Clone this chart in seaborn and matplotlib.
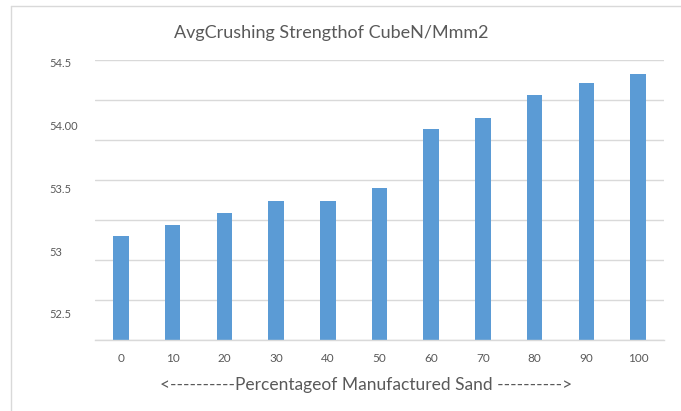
import numpy as np
import pandas as pd
import seaborn as sns
import matplotlib.pyplot as plt
from matplotlib.lines import Line2D

percent = ['0', '10', '20', '30', '40', '50', '60', '70', '80', '90', '100']
strength = [53.12, 53.21, 53.30, 53.40, 53.40, 53.50, 53.97, 54.06, 54.24, 54.34, 54.41]
ytick_vals = [52.5, 53.0, 53.5, 54.0, 54.5]
ytick_labels = ['52.5', '53', '53.5', '54.00', '54.5']

df = pd.DataFrame({'percent': percent, 'strength': strength})

sns.set_style('white')
plt.rcParams['font.family'] = ['Lato', 'DejaVu Sans']
grey = '#595959'
grid = '#D9D9D9'

W, H = 681, 411
fig = plt.figure(figsize=(W / 100, H / 100), dpi=100)
ax = fig.add_axes([95 / W, 1 - 340 / H, (664 - 95) / W, (340 - 60) / H])

sns.barplot(data=df, x='percent', y='strength', color='#5B9BD5', width=0.3,
            saturation=1, linewidth=0, ax=ax)

ylo, yhi = 52.293, 54.5215
ax.set_ylim(ylo, yhi)
ax.set_xlim(-0.5, len(percent) - 0.5)

# gridlines (evenly spaced, independent of labels)
ax.set_yticks(np.linspace(ylo, yhi, 8), minor=True)
ax.grid(which='minor', axis='y', color=grid, linewidth=1.0)
ax.grid(which='major', visible=False)
ax.set_axisbelow(True)

ax.set_yticks(ytick_vals)
ax.set_yticklabels(ytick_labels)
ax.tick_params(axis='y', which='both', length=0, pad=46 * 0.72, labelsize=8, labelcolor=grey)
for t in ax.get_yticklabels():
    t.set_horizontalalignment('left')
ax.tick_params(axis='x', length=0, pad=9, labelsize=8.5, labelcolor=grey)

for s in ['left', 'right', 'top']:
    ax.spines[s].set_visible(False)
ax.spines['bottom'].set_color(grid)
ax.spines['bottom'].set_linewidth(1.0)
ax.set_xlabel('')
ax.set_ylabel('')

fig.text(331 / W, 1 - 37.7 / H, 'AvgCrushing Strengthof CubeN/Mmm2', ha='center',
         va='baseline', fontsize=13, color=grey)
fig.text(366 / W, 1 - 390 / H, '<----------Percentageof Manufactured Sand ---------->',
         ha='center', va='baseline', fontsize=12.5, color=grey)

# chart area border (left and top visible)
fig.add_artist(Line2D([10.7 / W, 10.7 / W], [0, 1 - 6 / H], color=grid, linewidth=1.0,
                      transform=fig.transFigure))
fig.add_artist(Line2D([10.7 / W, 1], [1 - 6 / H, 1 - 6 / H], color=grid, linewidth=1.0,
                      transform=fig.transFigure))

fig.savefig('out.png', dpi=100)
